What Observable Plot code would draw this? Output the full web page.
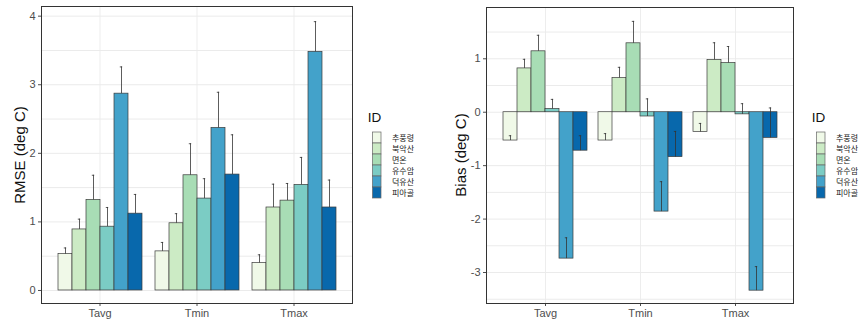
<!DOCTYPE html>
<html><head><meta charset="utf-8">
<script src="https://cdn.jsdelivr.net/npm/d3@7"></script>
<script src="https://cdn.jsdelivr.net/npm/@observablehq/plot@0.6"></script>
<style>
body{margin:0;background:#fff;}
#root{position:relative;width:862px;height:328px;overflow:hidden;background:#fff;font-family:"Liberation Sans",Arial,sans-serif;}
.layer{position:absolute;top:0;}
.ytitle{position:absolute;font-size:15px;color:#111;transform:translate(-50%,-50%) rotate(-90deg);white-space:nowrap;line-height:1;}
.ltitle{position:absolute;font-size:13.5px;color:#111;line-height:1;}
</style></head><body><div id="root"></div>
<script>
// ---- data ----
const groups = ["Tavg", "Tmin", "Tmax"];
const ids = ["추풍령", "북악산", "면온", "유수암", "덕유산", "피아골"];
const colors = ["#f0f9e8", "#ccebc5", "#a8ddb5", "#7bccc4", "#43a2ca", "#0868ac"];

// RMSE (deg C): mean and upper end of error bar, in ids order
const rmseTavg   = [0.53, 0.89, 1.32, 0.93, 2.87, 1.12];
const rmseTavgHi = [0.62, 1.04, 1.68, 1.21, 3.26, 1.40];
const rmseTmin   = [0.57, 0.98, 1.68, 1.34, 2.37, 1.69];
const rmseTminHi = [0.70, 1.12, 2.14, 1.63, 2.89, 2.27];
const rmseTmax   = [0.40, 1.21, 1.31, 1.54, 3.48, 1.21];
const rmseTmaxHi = [0.52, 1.55, 1.56, 1.94, 3.92, 1.61];

// Bias (deg C)
const biasTavg   = [-0.53, 0.82, 1.14, 0.06, -2.74, -0.72];
const biasTavgHi = [-0.44, 0.99, 1.44, 0.24, -2.35, -0.44];
const biasTmin   = [-0.53, 0.64, 1.29, -0.08, -1.86, -0.84];
const biasTminHi = [-0.40, 0.84, 1.70, 0.25, -1.30, -0.36];
const biasTmax   = [-0.37, 0.98, 0.92, -0.04, -3.34, -0.48];
const biasTmaxHi = [-0.21, 1.30, 1.23, 0.16, -2.89, 0.08];

const rmseTicks = [0, 1, 2, 3, 4];
const rmseGrid = [0, 0.5, 1, 1.5, 2, 2.5, 3, 3.5, 4];
const biasTicks = [-3, -2, -1, 0, 1];
const biasGrid = [-3.5, -3, -2.5, -2, -1.5, -1, -0.5, 0, 0.5, 1, 1.5];

function rows(lists) {
  const out = [];
  groups.forEach((g, gi) => {
    const [vals, his] = lists[gi];
    ids.forEach((id, i) => out.push({g, id, v: vals[i], hi: his[i]}));
  });
  return out;
}
const rmseRows = rows([[rmseTavg, rmseTavgHi], [rmseTmin, rmseTminHi], [rmseTmax, rmseTmaxHi]]);
const biasRows = rows([[biasTavg, biasTavgHi], [biasTmin, biasTminHi], [biasTmax, biasTmaxHi]]);

const root = document.getElementById("root");
function place(node, left, top, w) {
  const d = document.createElement("div");
  d.className = "layer";
  d.style.left = left + "px";
  d.style.top = top + "px";
  d.style.width = w + "px";
  d.appendChild(node);
  root.appendChild(d);
}

function panel({left, width, mL, mR, mT, mB, domain, ticks, grid, data, title, titleX}) {
  const H = 328;
  const bg = Plot.plot({
    width, height: H, marginLeft: mL, marginRight: mR, marginTop: mT, marginBottom: mB,
    style: {background: "transparent", color: "#4d4d4d", fontSize: "11px", fontFamily: "Liberation Sans, Arial, sans-serif"},
    x: {type: "band", domain: groups, paddingInner: 0.1, paddingOuter: 0.15, tickSize: 3, tickPadding: 3, label: null, grid: true},
    y: {domain, ticks, tickSize: 3, tickPadding: 3, label: null, tickFormat: d => String(d)},
    marks: [
      Plot.ruleY(grid, {y: d => d, stroke: "#ebebeb", strokeWidth: 1}),
      Plot.frame({stroke: "#333", strokeWidth: 1})
    ]
  });
  place(bg, left, 0, width);
  const fg = Plot.plot({
    width, height: H, marginLeft: mL, marginRight: mR, marginTop: mT, marginBottom: mB,
    style: {background: "transparent"},
    fx: {domain: groups, paddingInner: 0.1, paddingOuter: 0.15, axis: null, label: null},
    x: {domain: ids, padding: 0, axis: null},
    y: {domain, axis: null},
    color: {domain: ids, range: colors},
    marks: [
      Plot.barY(data, {fx: "g", x: "id", y: "v", fill: "id", stroke: "#3a3a3a", strokeWidth: 0.7}),
      Plot.ruleX(data, {fx: "g", x: "id", y1: "v", y2: "hi", stroke: "#333", strokeWidth: 0.8}),
      Plot.tickY(data, {fx: "g", x: "id", y: "hi", stroke: "#333", strokeWidth: 0.8, insetLeft: 5.8, insetRight: 5.8})
    ]
  });
  place(fg, left, 0, width);
  const t = document.createElement("div");
  t.className = "ytitle";
  t.textContent = title;
  t.style.left = titleX + "px";
  t.style.top = (mT + (H - mT - mB) / 2) + "px";
  root.appendChild(t);
}

function legend(left, top) {
  const lg = Plot.plot({
    width: 72, height: 72.8, marginLeft: 0.5, marginRight: 63, marginTop: 1, marginBottom: 1,
    y: {domain: ids, padding: 0, axis: null},
    color: {domain: ids, range: colors},
    style: {background: "transparent", fontSize: "8px", fontFamily: "Noto Sans CJK KR, sans-serif"},
    marks: [
      Plot.cell(ids, {y: d => d, fill: d => d, stroke: "#666", strokeWidth: 0.7}),
      Plot.text(ids, {y: d => d, text: d => d, frameAnchor: "right", textAnchor: "start", dx: 10.5, fill: "#222", lineHeight: 1})
    ]
  });
  place(lg, left - 0.5, top - 1, 72);
  const t = document.createElement("div");
  t.className = "ltitle";
  t.textContent = "ID";
  t.style.left = (left - 5) + "px";
  t.style.top = (top - 19) + "px";
  root.appendChild(t);
}

panel({left: 0, width: 360, mL: 41, mR: 8, mT: 6, mB: 25, domain: [-0.19, 4.141], ticks: rmseTicks, grid: rmseGrid, data: rmseRows, title: "RMSE (deg C)", titleX: 19});
panel({left: 440, width: 360, mL: 46, mR: 7, mT: 7, mB: 25, domain: [-3.58, 1.96], ticks: biasTicks, grid: biasGrid, data: biasRows, title: "Bias (deg C)", titleX: 460});
legend(372.7, 130.3);
legend(816.7, 130.3);
</script></body></html>
